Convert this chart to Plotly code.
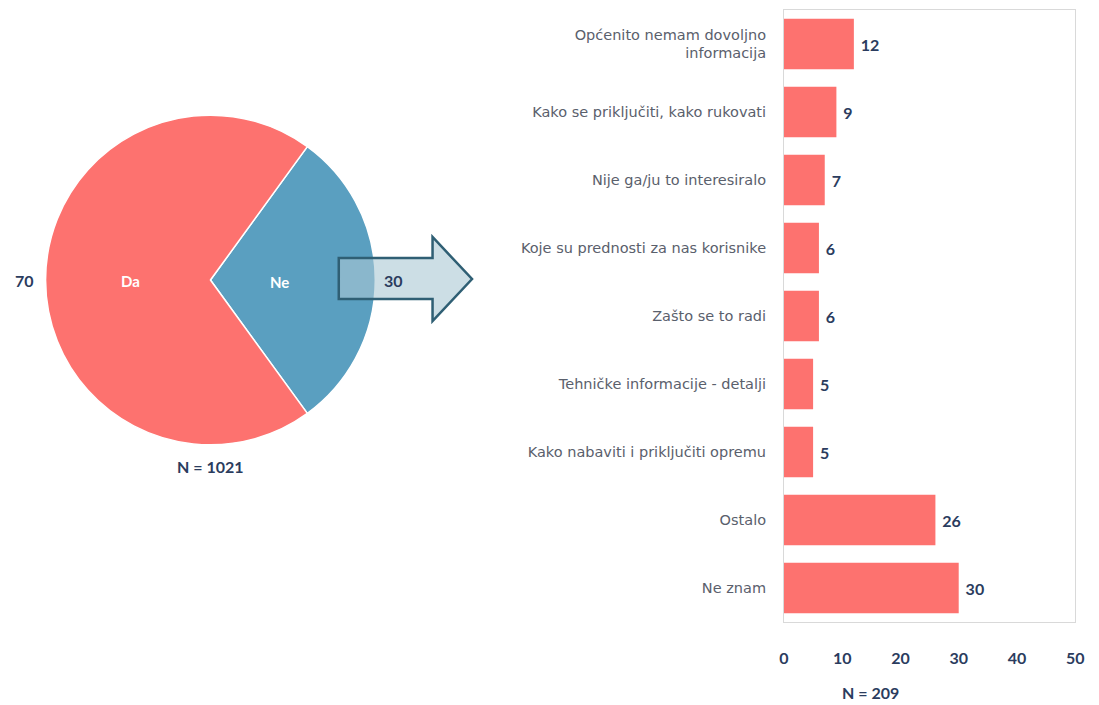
import plotly.graph_objects as go

# page body has an 8px margin; size the figure so it fits in the window
OFF = 8
W, H = 1099 - OFF, 705 - OFF

pie_labels = ["Ne", "Da"]
pie_values = [30, 70]
pie_colors = ["#5a9fc0", "#fd726f"]

categories = [
    "Općenito nemam dovoljno<br>informacija",
    "Kako se priključiti, kako rukovati",
    "Nije ga/ju to interesiralo",
    "Koje su prednosti za nas korisnike",
    "Zašto se to radi",
    "Tehničke informacije - detalji",
    "Kako nabaviti i priključiti opremu",
    "Ostalo",
    "Ne znam",
]
values = [12, 9, 7, 6, 6, 5, 5, 26, 30]
x_ticks = [0, 10, 20, 30, 40, 50]

NAVY = "#2b3c5e"
GRAY = "#5a606c"


def px(x):
    return (x - OFF) / W


def py(y):
    return 1 - (y - OFF) / H


fig = go.Figure()

fig.add_trace(go.Pie(
    labels=pie_labels, values=pie_values, sort=False, direction="clockwise",
    rotation=36, marker=dict(colors=pie_colors, line=dict(color="white", width=1.5)),
    textinfo="none",
    domain=dict(x=[px(41), px(375)], y=[py(447), py(113)]),
    showlegend=False, hoverinfo="label+value",
))

fig.add_trace(go.Bar(
    y=categories, x=values, orientation="h",
    marker=dict(color="#fd726f", line=dict(width=0)),
    text=[" " + str(v) for v in values], textposition="outside",
    textfont=dict(color=NAVY, size=16, family="Lato", weight="bold"),
    cliponaxis=False, showlegend=False,
    xaxis="x", yaxis="y",
))

fig.update_layout(
    width=W, height=H,
    margin=dict(l=0, r=0, t=0, b=0),
    paper_bgcolor="white", plot_bgcolor="white",
    bargap=0.26,
    xaxis=dict(
        domain=[px(789), px(1084)], range=[0, 50], tickvals=x_ticks,
        showgrid=False, zeroline=False, showline=True, mirror=True,
        linecolor="#d9d9d9", linewidth=1, ticks="",
        tickfont=dict(color=NAVY, size=16, family="Lato", weight="bold"),
        ticklabelstandoff=22, fixedrange=True,
    ),
    yaxis=dict(
        domain=[py(622), py(10)], autorange="reversed",
        showgrid=False, showline=True, mirror=True, linecolor="#d9d9d9",
        linewidth=1, ticks="", tickfont=dict(color=GRAY, size=14.5, family="DejaVu Sans"),
        ticklabelstandoff=14, fixedrange=True,
    ),
    font=dict(family="Lato"),
)

# arrow
x0, x1, x2 = px(338), px(433), px(473)
yb0, yb1 = py(258), py(299)
yh0, yh1, ym = py(237), py(321), py(279)
path = (f"M {x0},{yb0} L {x1},{yb0} L {x1},{yh0} L {x2},{ym} L {x1},{yh1} "
        f"L {x1},{yb1} L {x0},{yb1} Z")
fig.add_shape(type="path", path=path, xref="paper", yref="paper",
              fillcolor="rgba(170,200,212,0.6)", line=dict(color="#2f5f74", width=2.5))


def note(x, y, text, font):
    fig.add_annotation(x=px(x), y=py(y), xref="paper", yref="paper", text=text,
                       showarrow=False, font=font, xanchor="center", yanchor="middle")


ann_font = dict(color=NAVY, size=16, family="Lato", weight="bold")
slice_font = dict(color="white", size=15, family="Lato", weight="bold")
note(127, 281, pie_labels[1], slice_font)
note(278, 282, pie_labels[0], slice_font)
note(20, 280, str(pie_values[1]), ann_font)
note(393, 280, str(pie_values[0]), ann_font)
note(208, 466, "N = 1021", ann_font)
note(877, 692, "N = 209", ann_font)

fig.write_html("out.html")
